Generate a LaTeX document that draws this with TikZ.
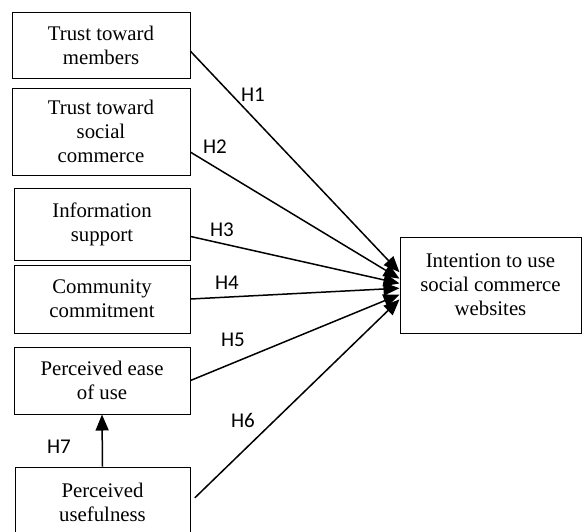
\documentclass[tikz,border=0pt]{standalone}
\usepackage{fontspec}
\setmainfont{Liberation Serif}
\newfontfamily\hfont{Carlito}
\usetikzlibrary{arrows.meta, positioning}

\tikzset{
  factor/.style={draw, line width=0.5pt, align=center, inner sep=0pt,
    font=\fontsize{10.4}{12}\selectfont},
  hlabel/.style={font=\hfont\fontsize{10.5}{12}\selectfont, inner sep=0pt},
  path/.style={line width=0.75pt, -{Triangle[length=8pt, width=6.5pt]}}
}

\begin{document}
\begin{tikzpicture}[x=0.5pt, y=-0.5pt]
  \clip (0,0) rectangle (582,531);

  % Antecedents
  \node[factor, minimum width=89pt, minimum height=33pt] (tm) at (101, 45) {Trust toward\\members};
  \node[factor, minimum width=89pt, minimum height=43.5pt] (tsc) at (101, 131.5) {Trust toward\\social\\commerce};
  \node[factor, minimum width=88pt, minimum height=36pt] (is) at (102, 224) {Information\\support};
  \node[factor, minimum width=88pt, minimum height=34pt] (cc) at (102, 299) {Community\\commitment};
  \node[factor, minimum width=88pt, minimum height=33.5pt] (peou) at (102, 380.5) {Perceived ease\\of use};
  \node[factor, minimum width=87.5pt, minimum height=35pt] (pu) at (102.5, 502) {Perceived\\usefulness};

  % Outcome
  \node[factor, minimum width=90.5pt, minimum height=48pt] (iu) at (490.5, 285) {Intention to use\\social commerce\\websites};

  % Paths
  \draw[path] (tm.-4.5) -- (iu.172);
  \draw[path] (tsc.-13) -- (iu.176);
  \draw[path] (is.-8.7) -- (iu.179);
  \draw[path] (cc.east) -- (iu.182.5);
  \draw[path] (peou.east) -- (iu.186);
  \draw[path, shorten <=3pt] (pu.east) -- (iu.189);
  \draw[path] (pu.north) -- (peou.south);

  % Hypothesis labels
  \node[hlabel] (h1) at (253, 95) {H1};
  \node[hlabel] (h2) at (215, 147) {H2};
  \node[hlabel] (h3) at (222, 230) {H3};
  \node[hlabel] (h4) at (227, 283) {H4};
  \node[hlabel] (h5) at (233, 340) {H5};
  \node[hlabel] (h6) at (243, 420) {H6};
  \node[hlabel] (h7) at (59, 447) {H7};
\end{tikzpicture}
\end{document}
